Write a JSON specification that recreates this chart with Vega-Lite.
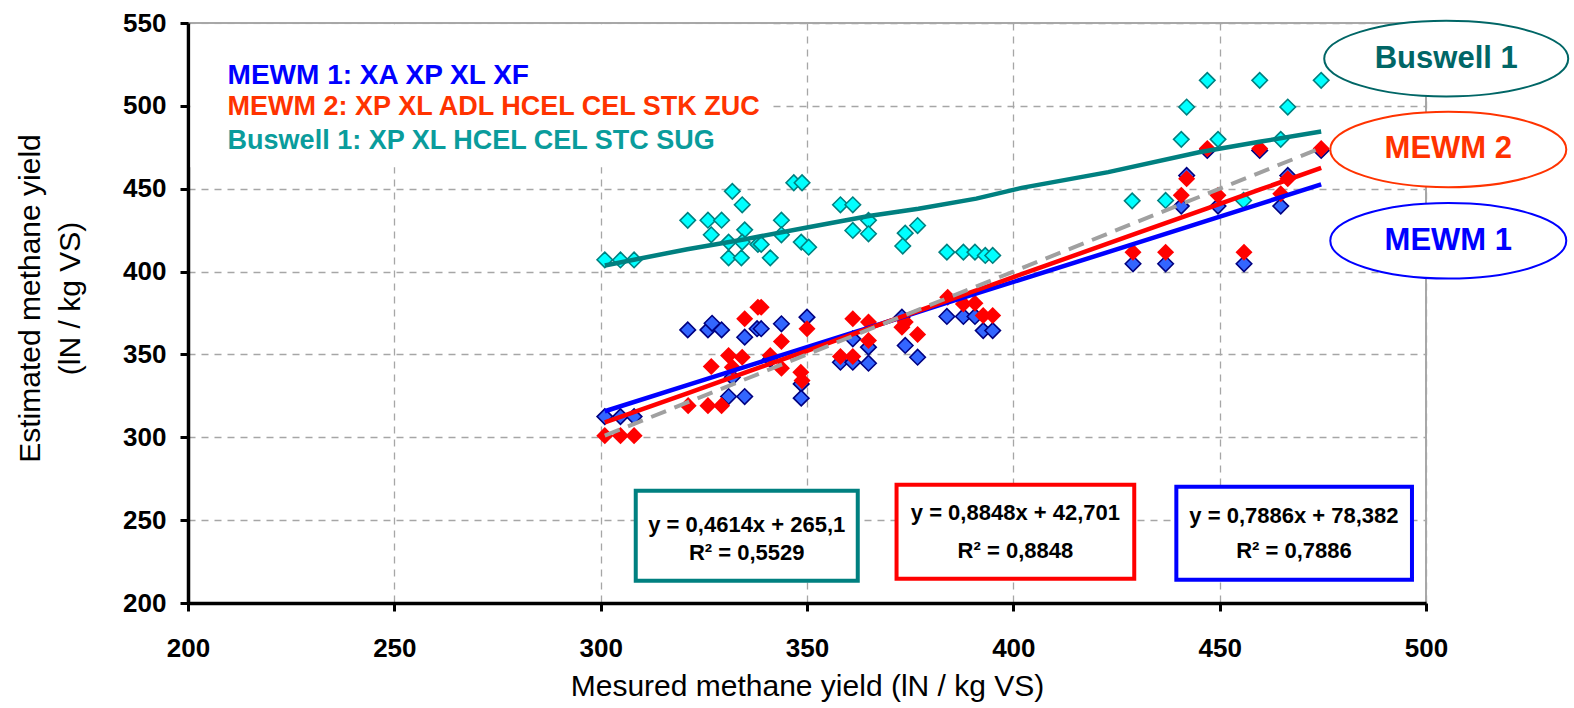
{
  "$schema": "https://vega.github.io/schema/vega-lite/v6.json",
  "autosize": {"type": "none"},
  "width": 1238,
  "height": 580,
  "padding": {"left": 188, "top": 23, "right": 148, "bottom": 105},
  "background": "white",
  "config": {
    "view": {"stroke": "#8c8c8c", "strokeWidth": 1.5},
    "font": "Liberation Sans"
  },
  "datasets": {
    "pts": [
      {"s": "MEWM 1", "x": 301.0, "y": 312.5}, {"s": "MEWM 1", "x": 304.8, "y": 312.5}, {"s": "MEWM 1", "x": 308.1, "y": 312.5},
      {"s": "MEWM 1", "x": 321.1, "y": 364.8}, {"s": "MEWM 1", "x": 326.0, "y": 364.8}, {"s": "MEWM 1", "x": 327.0, "y": 368.8},
      {"s": "MEWM 1", "x": 329.3, "y": 364.8}, {"s": "MEWM 1", "x": 331.0, "y": 324.6}, {"s": "MEWM 1", "x": 334.9, "y": 324.6},
      {"s": "MEWM 1", "x": 331.9, "y": 336.2}, {"s": "MEWM 1", "x": 334.9, "y": 360.4}, {"s": "MEWM 1", "x": 337.9, "y": 365.5},
      {"s": "MEWM 1", "x": 338.9, "y": 365.5}, {"s": "MEWM 1", "x": 341.1, "y": 347.0}, {"s": "MEWM 1", "x": 343.8, "y": 368.5},
      {"s": "MEWM 1", "x": 348.6, "y": 332.2}, {"s": "MEWM 1", "x": 348.6, "y": 323.6}, {"s": "MEWM 1", "x": 350.0, "y": 372.5},
      {"s": "MEWM 1", "x": 358.1, "y": 345.3}, {"s": "MEWM 1", "x": 361.1, "y": 345.3}, {"s": "MEWM 1", "x": 361.1, "y": 359.4},
      {"s": "MEWM 1", "x": 364.9, "y": 344.7}, {"s": "MEWM 1", "x": 364.9, "y": 354.4}, {"s": "MEWM 1", "x": 373.0, "y": 372.5},
      {"s": "MEWM 1", "x": 373.8, "y": 355.4}, {"s": "MEWM 1", "x": 376.8, "y": 348.3}, {"s": "MEWM 1", "x": 383.9, "y": 372.9},
      {"s": "MEWM 1", "x": 387.9, "y": 372.9}, {"s": "MEWM 1", "x": 390.7, "y": 372.9}, {"s": "MEWM 1", "x": 392.7, "y": 364.4},
      {"s": "MEWM 1", "x": 395.0, "y": 364.4}, {"s": "MEWM 1", "x": 429.0, "y": 404.7}, {"s": "MEWM 1", "x": 436.9, "y": 404.7},
      {"s": "MEWM 1", "x": 440.7, "y": 439.5}, {"s": "MEWM 1", "x": 442.0, "y": 458.0}, {"s": "MEWM 1", "x": 447.0, "y": 473.1},
      {"s": "MEWM 1", "x": 449.6, "y": 439.5}, {"s": "MEWM 1", "x": 455.9, "y": 404.7}, {"s": "MEWM 1", "x": 459.7, "y": 473.1},
      {"s": "MEWM 1", "x": 464.8, "y": 439.5}, {"s": "MEWM 1", "x": 466.5, "y": 458.0}, {"s": "MEWM 1", "x": 474.6, "y": 473.1},

      {"s": "MEWM 2", "x": 301.0, "y": 301.0}, {"s": "MEWM 2", "x": 304.8, "y": 301.0}, {"s": "MEWM 2", "x": 308.1, "y": 301.0},
      {"s": "MEWM 2", "x": 321.2, "y": 319.1}, {"s": "MEWM 2", "x": 326.0, "y": 319.1}, {"s": "MEWM 2", "x": 329.3, "y": 319.1},
      {"s": "MEWM 2", "x": 326.8, "y": 342.7}, {"s": "MEWM 2", "x": 331.0, "y": 349.3}, {"s": "MEWM 2", "x": 334.3, "y": 348.3},
      {"s": "MEWM 2", "x": 331.9, "y": 342.3}, {"s": "MEWM 2", "x": 334.9, "y": 371.5}, {"s": "MEWM 2", "x": 338.1, "y": 378.5},
      {"s": "MEWM 2", "x": 338.9, "y": 378.5}, {"s": "MEWM 2", "x": 341.1, "y": 349.3}, {"s": "MEWM 2", "x": 343.8, "y": 357.8},
      {"s": "MEWM 2", "x": 343.8, "y": 341.7}, {"s": "MEWM 2", "x": 348.5, "y": 339.3}, {"s": "MEWM 2", "x": 348.8, "y": 334.2},
      {"s": "MEWM 2", "x": 350.0, "y": 365.5}, {"s": "MEWM 2", "x": 358.1, "y": 348.7}, {"s": "MEWM 2", "x": 361.1, "y": 348.7},
      {"s": "MEWM 2", "x": 361.1, "y": 371.5}, {"s": "MEWM 2", "x": 364.9, "y": 369.5}, {"s": "MEWM 2", "x": 364.9, "y": 358.4},
      {"s": "MEWM 2", "x": 373.0, "y": 366.4}, {"s": "MEWM 2", "x": 373.8, "y": 369.5}, {"s": "MEWM 2", "x": 376.8, "y": 362.0},
      {"s": "MEWM 2", "x": 384.1, "y": 384.5}, {"s": "MEWM 2", "x": 387.9, "y": 380.5}, {"s": "MEWM 2", "x": 390.7, "y": 380.9},
      {"s": "MEWM 2", "x": 392.7, "y": 373.5}, {"s": "MEWM 2", "x": 395.0, "y": 373.5}, {"s": "MEWM 2", "x": 429.0, "y": 411.7},
      {"s": "MEWM 2", "x": 436.9, "y": 411.7}, {"s": "MEWM 2", "x": 440.7, "y": 446.0}, {"s": "MEWM 2", "x": 442.0, "y": 456.0},
      {"s": "MEWM 2", "x": 447.0, "y": 474.2}, {"s": "MEWM 2", "x": 449.6, "y": 446.0}, {"s": "MEWM 2", "x": 455.9, "y": 411.7},
      {"s": "MEWM 2", "x": 459.7, "y": 474.2}, {"s": "MEWM 2", "x": 464.8, "y": 447.0}, {"s": "MEWM 2", "x": 466.5, "y": 456.0},
      {"s": "MEWM 2", "x": 474.6, "y": 474.2},

      {"s": "Buswell 1", "x": 301.0, "y": 407.1}, {"s": "Buswell 1", "x": 304.8, "y": 407.0}, {"s": "Buswell 1", "x": 308.1, "y": 407.0},
      {"s": "Buswell 1", "x": 321.1, "y": 430.9}, {"s": "Buswell 1", "x": 326.0, "y": 431.0}, {"s": "Buswell 1", "x": 329.3, "y": 431.0},
      {"s": "Buswell 1", "x": 331.9, "y": 448.4}, {"s": "Buswell 1", "x": 334.3, "y": 440.3}, {"s": "Buswell 1", "x": 326.8, "y": 422.2},
      {"s": "Buswell 1", "x": 334.9, "y": 425.2}, {"s": "Buswell 1", "x": 331.0, "y": 417.8}, {"s": "Buswell 1", "x": 334.3, "y": 417.8},
      {"s": "Buswell 1", "x": 331.0, "y": 408.3}, {"s": "Buswell 1", "x": 334.1, "y": 408.3}, {"s": "Buswell 1", "x": 338.1, "y": 416.4},
      {"s": "Buswell 1", "x": 338.9, "y": 416.4}, {"s": "Buswell 1", "x": 341.1, "y": 408.3}, {"s": "Buswell 1", "x": 343.8, "y": 431.0},
      {"s": "Buswell 1", "x": 343.8, "y": 422.2}, {"s": "Buswell 1", "x": 346.8, "y": 453.6}, {"s": "Buswell 1", "x": 348.8, "y": 453.6},
      {"s": "Buswell 1", "x": 348.6, "y": 417.8}, {"s": "Buswell 1", "x": 350.4, "y": 414.7}, {"s": "Buswell 1", "x": 358.1, "y": 440.3},
      {"s": "Buswell 1", "x": 361.1, "y": 440.3}, {"s": "Buswell 1", "x": 361.1, "y": 424.8}, {"s": "Buswell 1", "x": 364.9, "y": 430.9},
      {"s": "Buswell 1", "x": 364.9, "y": 422.8}, {"s": "Buswell 1", "x": 373.8, "y": 423.2}, {"s": "Buswell 1", "x": 373.2, "y": 415.4},
      {"s": "Buswell 1", "x": 376.8, "y": 427.8}, {"s": "Buswell 1", "x": 383.9, "y": 411.7}, {"s": "Buswell 1", "x": 387.9, "y": 411.7},
      {"s": "Buswell 1", "x": 390.7, "y": 411.7}, {"s": "Buswell 1", "x": 393.2, "y": 409.7}, {"s": "Buswell 1", "x": 395.0, "y": 409.7},
      {"s": "Buswell 1", "x": 428.8, "y": 442.7}, {"s": "Buswell 1", "x": 436.9, "y": 442.9}, {"s": "Buswell 1", "x": 440.7, "y": 479.8},
      {"s": "Buswell 1", "x": 442.0, "y": 499.3}, {"s": "Buswell 1", "x": 447.0, "y": 515.4}, {"s": "Buswell 1", "x": 449.6, "y": 479.8},
      {"s": "Buswell 1", "x": 455.8, "y": 442.9}, {"s": "Buswell 1", "x": 459.7, "y": 515.4}, {"s": "Buswell 1", "x": 464.8, "y": 479.8},
      {"s": "Buswell 1", "x": 466.5, "y": 499.3}, {"s": "Buswell 1", "x": 474.6, "y": 515.4}
    ],
    "fits": [
      {"s": "MEWM 1", "x": 301, "y": 315.7}, {"s": "MEWM 1", "x": 321, "y": 331.5}, {"s": "MEWM 1", "x": 335, "y": 342.5},
      {"s": "MEWM 1", "x": 350, "y": 354.4}, {"s": "MEWM 1", "x": 365, "y": 366.1}, {"s": "MEWM 1", "x": 384, "y": 381.2},
      {"s": "MEWM 1", "x": 395, "y": 389.8}, {"s": "MEWM 1", "x": 430, "y": 417.3}, {"s": "MEWM 1", "x": 447, "y": 430.8},
      {"s": "MEWM 1", "x": 460, "y": 441.0}, {"s": "MEWM 1", "x": 474.6, "y": 452.6},
      {"s": "MEWM 2", "x": 301, "y": 309.0}, {"s": "MEWM 2", "x": 321, "y": 326.5}, {"s": "MEWM 2", "x": 335, "y": 339.0},
      {"s": "MEWM 2", "x": 350, "y": 352.2}, {"s": "MEWM 2", "x": 365, "y": 365.7}, {"s": "MEWM 2", "x": 384, "y": 382.5},
      {"s": "MEWM 2", "x": 395, "y": 392.2}, {"s": "MEWM 2", "x": 430, "y": 423.2}, {"s": "MEWM 2", "x": 447, "y": 438.2},
      {"s": "MEWM 2", "x": 460, "y": 449.7}, {"s": "MEWM 2", "x": 474.6, "y": 462.6},
      {"s": "Buswell 1", "x": 301, "y": 403.7}, {"s": "Buswell 1", "x": 321, "y": 413.5}, {"s": "Buswell 1", "x": 335, "y": 419.5},
      {"s": "Buswell 1", "x": 350, "y": 426.6}, {"s": "Buswell 1", "x": 365, "y": 433.5}, {"s": "Buswell 1", "x": 377, "y": 437.9},
      {"s": "Buswell 1", "x": 391, "y": 444.0}, {"s": "Buswell 1", "x": 402, "y": 450.5}, {"s": "Buswell 1", "x": 423, "y": 460.0},
      {"s": "Buswell 1", "x": 445, "y": 472.0}, {"s": "Buswell 1", "x": 460, "y": 478.5}, {"s": "Buswell 1", "x": 474.6, "y": 484.5},
      {"s": "1:1", "x": 301, "y": 301}, {"s": "1:1", "x": 474.6, "y": 474.6}
    ],
    "boxes": [
      {"s": "Buswell 1", "x1": 308.5, "x2": 362.3, "y1": 213.5, "y2": 267.8},
      {"s": "MEWM 2", "x1": 371.7, "x2": 429.3, "y1": 214.7, "y2": 271.4},
      {"s": "MEWM 1", "x1": 439.5, "x2": 496.6, "y1": 214.0, "y2": 270.2}
    ],
    "eqs": [
      {"x": 335.4, "y": 247.3, "t": "y = 0,4614x + 265,1"},
      {"x": 335.4, "y": 230.3, "t": "R² = 0,5529"},
      {"x": 400.5, "y": 254.5, "t": "y = 0,8848x + 42,701"},
      {"x": 400.5, "y": 231.5, "t": "R² = 0,8848"},
      {"x": 468.0, "y": 252.7, "t": "y = 0,7886x + 78,382"},
      {"x": 468.0, "y": 231.5, "t": "R² = 0,7886"}
    ],
    "notes": [
      {"s": "MEWM 1", "x": 209.6, "y": 517.8, "t": "MEWM 1: XA XP XL XF"},
      {"s": "MEWM 2", "x": 209.6, "y": 499.1, "t": "MEWM 2: XP XL ADL HCEL CEL STK ZUC"},
      {"s": "Buswell 1", "x": 209.6, "y": 478.6, "t": "Buswell 1: XP XL HCEL CEL STC SUG"}
    ],
    "ovals": [
      {"s": "Buswell 1", "x": 504.9, "y": 528.5, "t": "Buswell 1"},
      {"s": "MEWM 2", "x": 505.4, "y": 473.7, "t": "MEWM 2"},
      {"s": "MEWM 1", "x": 505.4, "y": 418.6, "t": "MEWM 1"}
    ],
    "legbg": [{"x1": 200.6, "x2": 341.4, "y1": 463, "y2": 549.2}]
  },
  "encoding": {
    "x": {"type": "quantitative"},
    "y": {"type": "quantitative"}
  },
  "layer": [
    {
      "data": {"name": "legbg"},
      "mark": {"type": "rect", "fill": "white", "stroke": null},
      "encoding": {
        "x": {"field": "x1", "type": "quantitative",
          "scale": {"domain": [200, 500], "nice": false, "zero": false},
          "axis": {
            "values": [200, 250, 300, 350, 400, 450, 500],
            "domainColor": "black", "domainWidth": 3.5,
            "tickColor": "black", "tickWidth": 3, "tickSize": 8,
            "labelFont": "Liberation Sans", "labelFontWeight": "bold", "labelFontSize": 26, "labelColor": "black",
            "labelPadding": 24, "labelFlush": false,
            "grid": true, "gridColor": "#a6a6a6", "gridDash": [7, 6], "gridWidth": 1.3,
            "title": "Mesured methane yield (lN / kg VS)",
            "titleFont": "Liberation Sans", "titleFontWeight": "normal", "titleFontSize": 30, "titleColor": "black",
            "titleBaseline": "top", "titleY": 68
          }},
        "x2": {"field": "x2"},
        "y": {"field": "y1", "type": "quantitative",
          "scale": {"domain": [200, 550], "nice": false, "zero": false},
          "axis": {
            "values": [200, 250, 300, 350, 400, 450, 500, 550],
            "domainColor": "black", "domainWidth": 3.5,
            "tickColor": "black", "tickWidth": 3, "tickSize": 8,
            "labelFont": "Liberation Sans", "labelFontWeight": "bold", "labelFontSize": 26, "labelColor": "black",
            "labelPadding": 14, "labelFlush": false,
            "grid": true, "gridColor": "#a6a6a6", "gridDash": [7, 6], "gridWidth": 1.3,
            "title": ["Estimated methane yield", "(lN / kg VS)"],
            "titleFont": "Liberation Sans", "titleFontWeight": "normal", "titleFontSize": 30, "titleColor": "black",
            "titleLineHeight": 40, "titleBaseline": "bottom", "titleX": -143, "titleY": 275, "titleAngle": -90
          }},
        "y2": {"field": "y2"}
      }
    },
    {
      "data": {"name": "boxes"},
      "transform": [{"filter": "datum.s === 'Buswell 1'"}],
      "mark": {"type": "rect", "fill": "white", "stroke": "#008080", "strokeWidth": 4},
      "encoding": {"x": {"field": "x1", "type": "quantitative"}, "x2": {"field": "x2"}, "y": {"field": "y1", "type": "quantitative"}, "y2": {"field": "y2"}}
    },
    {
      "data": {"name": "boxes"},
      "transform": [{"filter": "datum.s === 'MEWM 2'"}],
      "mark": {"type": "rect", "fill": "white", "stroke": "#ff0000", "strokeWidth": 4},
      "encoding": {"x": {"field": "x1", "type": "quantitative"}, "x2": {"field": "x2"}, "y": {"field": "y1", "type": "quantitative"}, "y2": {"field": "y2"}}
    },
    {
      "data": {"name": "boxes"},
      "transform": [{"filter": "datum.s === 'MEWM 1'"}],
      "mark": {"type": "rect", "fill": "white", "stroke": "#0000ff", "strokeWidth": 4},
      "encoding": {"x": {"field": "x1", "type": "quantitative"}, "x2": {"field": "x2"}, "y": {"field": "y1", "type": "quantitative"}, "y2": {"field": "y2"}}
    },
    {
      "data": {"name": "eqs"},
      "mark": {"type": "text", "font": "Liberation Sans", "fontWeight": "bold", "fontSize": 22, "color": "black", "align": "center", "baseline": "middle"},
      "encoding": {"x": {"field": "x", "type": "quantitative"}, "y": {"field": "y", "type": "quantitative"}, "text": {"field": "t"}}
    },
    {
      "data": {"name": "pts"},
      "transform": [{"filter": "datum.s === 'MEWM 1'"}],
      "mark": {"type": "point", "shape": "diamond", "filled": true, "size": 240, "fill": "#3366ff", "stroke": "#000080", "strokeWidth": 1.6, "opacity": 1},
      "encoding": {"x": {"field": "x", "type": "quantitative"}, "y": {"field": "y", "type": "quantitative"}}
    },
    {
      "data": {"name": "pts"},
      "transform": [{"filter": "datum.s === 'MEWM 2'"}],
      "mark": {"type": "point", "shape": "diamond", "filled": true, "size": 290, "fill": "#ff0000", "strokeWidth": 0, "opacity": 1},
      "encoding": {"x": {"field": "x", "type": "quantitative"}, "y": {"field": "y", "type": "quantitative"}}
    },
    {
      "data": {"name": "pts"},
      "transform": [{"filter": "datum.s === 'Buswell 1'"}],
      "mark": {"type": "point", "shape": "diamond", "filled": true, "size": 240, "fill": "#00ffff", "stroke": "#008080", "strokeWidth": 1.6, "opacity": 1},
      "encoding": {"x": {"field": "x", "type": "quantitative"}, "y": {"field": "y", "type": "quantitative"}}
    },
    {
      "data": {"name": "fits"},
      "transform": [{"filter": "datum.s === 'MEWM 1'"}],
      "mark": {"type": "line", "color": "#0000ff", "strokeWidth": 4.5},
      "encoding": {"x": {"field": "x", "type": "quantitative"}, "y": {"field": "y", "type": "quantitative"}}
    },
    {
      "data": {"name": "fits"},
      "transform": [{"filter": "datum.s === 'MEWM 2'"}],
      "mark": {"type": "line", "color": "#ff0000", "strokeWidth": 4.5},
      "encoding": {"x": {"field": "x", "type": "quantitative"}, "y": {"field": "y", "type": "quantitative"}}
    },
    {
      "data": {"name": "fits"},
      "transform": [{"filter": "datum.s === '1:1'"}],
      "mark": {"type": "line", "color": "#a0a0a0", "strokeWidth": 4, "strokeDash": [16, 9]},
      "encoding": {"x": {"field": "x", "type": "quantitative"}, "y": {"field": "y", "type": "quantitative"}}
    },
    {
      "data": {"name": "fits"},
      "transform": [{"filter": "datum.s === 'Buswell 1'"}],
      "mark": {"type": "line", "color": "#008080", "strokeWidth": 4.5},
      "encoding": {"x": {"field": "x", "type": "quantitative"}, "y": {"field": "y", "type": "quantitative"}}
    },
    {
      "data": {"name": "notes"},
      "transform": [{"filter": "datum.s === 'MEWM 1'"}],
      "mark": {"type": "text", "font": "Liberation Sans", "fontWeight": "bold", "fontSize": 28, "color": "#0000ff", "align": "left", "baseline": "middle"},
      "encoding": {"x": {"field": "x", "type": "quantitative"}, "y": {"field": "y", "type": "quantitative"}, "text": {"field": "t"}}
    },
    {
      "data": {"name": "notes"},
      "transform": [{"filter": "datum.s === 'MEWM 2'"}],
      "mark": {"type": "text", "font": "Liberation Sans", "fontWeight": "bold", "fontSize": 27, "color": "#ff3300", "align": "left", "baseline": "middle"},
      "encoding": {"x": {"field": "x", "type": "quantitative"}, "y": {"field": "y", "type": "quantitative"}, "text": {"field": "t"}}
    },
    {
      "data": {"name": "notes"},
      "transform": [{"filter": "datum.s === 'Buswell 1'"}],
      "mark": {"type": "text", "font": "Liberation Sans", "fontWeight": "bold", "fontSize": 27, "color": "#0a9c9c", "align": "left", "baseline": "middle"},
      "encoding": {"x": {"field": "x", "type": "quantitative"}, "y": {"field": "y", "type": "quantitative"}, "text": {"field": "t"}}
    },
    {
      "data": {"name": "ovals"},
      "transform": [{"filter": "datum.s === 'Buswell 1'"}],
      "mark": {"type": "point", "shape": "M-1,0A1,0.31,0,1,1,1,0A1,0.31,0,1,1,-1,0Z", "size": 59536, "filled": true, "fill": "white", "stroke": "#006666", "strokeWidth": 2, "opacity": 1},
      "encoding": {"x": {"field": "x", "type": "quantitative"}, "y": {"field": "y", "type": "quantitative"}}
    },
    {
      "data": {"name": "ovals"},
      "transform": [{"filter": "datum.s === 'MEWM 2'"}],
      "mark": {"type": "point", "shape": "M-1,0A1,0.32,0,1,1,1,0A1,0.32,0,1,1,-1,0Z", "size": 55696, "filled": true, "fill": "white", "stroke": "#ff3300", "strokeWidth": 2, "opacity": 1},
      "encoding": {"x": {"field": "x", "type": "quantitative"}, "y": {"field": "y", "type": "quantitative"}}
    },
    {
      "data": {"name": "ovals"},
      "transform": [{"filter": "datum.s === 'MEWM 1'"}],
      "mark": {"type": "point", "shape": "M-1,0A1,0.32,0,1,1,1,0A1,0.32,0,1,1,-1,0Z", "size": 55696, "filled": true, "fill": "white", "stroke": "#0000ff", "strokeWidth": 2, "opacity": 1},
      "encoding": {"x": {"field": "x", "type": "quantitative"}, "y": {"field": "y", "type": "quantitative"}}
    },
    {
      "data": {"name": "ovals"},
      "transform": [{"filter": "datum.s === 'Buswell 1'"}],
      "mark": {"type": "text", "font": "Liberation Sans", "fontWeight": "bold", "fontSize": 31, "color": "#006666", "align": "center", "baseline": "middle"},
      "encoding": {"x": {"field": "x", "type": "quantitative"}, "y": {"field": "y", "type": "quantitative"}, "text": {"field": "t"}}
    },
    {
      "data": {"name": "ovals"},
      "transform": [{"filter": "datum.s === 'MEWM 2'"}],
      "mark": {"type": "text", "font": "Liberation Sans", "fontWeight": "bold", "fontSize": 31, "color": "#ff3300", "align": "center", "baseline": "middle"},
      "encoding": {"x": {"field": "x", "type": "quantitative"}, "y": {"field": "y", "type": "quantitative"}, "text": {"field": "t"}}
    },
    {
      "data": {"name": "ovals"},
      "transform": [{"filter": "datum.s === 'MEWM 1'"}],
      "mark": {"type": "text", "font": "Liberation Sans", "fontWeight": "bold", "fontSize": 31, "color": "#0000ff", "align": "center", "baseline": "middle"},
      "encoding": {"x": {"field": "x", "type": "quantitative"}, "y": {"field": "y", "type": "quantitative"}, "text": {"field": "t"}}
    }
  ]
}
